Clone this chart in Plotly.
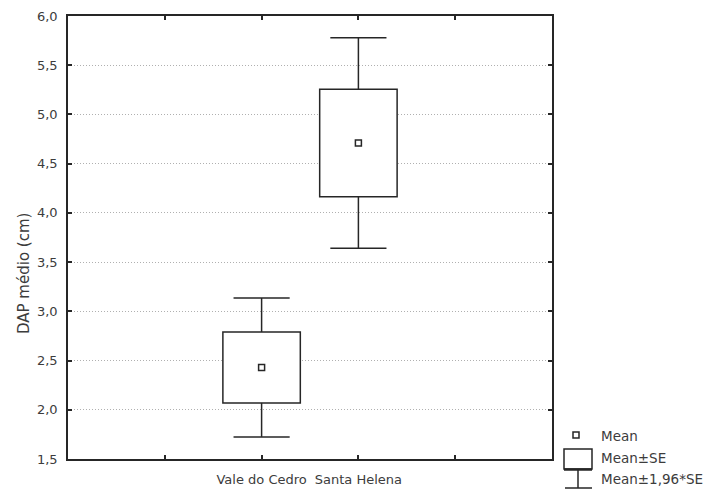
import plotly.graph_objects as go

# ---- data ----
categories = ["Vale do Cedro", "Santa Helena"]
cat_pos = [2, 3]
means = [2.43, 4.71]
se = [0.36, 0.545]
ci_factor = 1.96
y_ticks = [1.5, 2.0, 2.5, 3.0, 3.5, 4.0, 4.5, 5.0, 5.5, 6.0]
x_tickvals = [1, 2, 3, 4]
x_ticktext = [""] + categories + [""]

W, H = 708, 490
ML, MR, MT, MB = 68, 156, 16, 31
PW, PH = W - ML - MR, H - MT - MB
INK = "#262626"
TXT = "#3c3c3c"
FONT = "DejaVu Sans"

box_w = 0.8
cap_half = 0.29

fig = go.Figure()

# box = mean +/- SE
fig.add_trace(go.Bar(
    x=cat_pos, y=[2 * s for s in se], base=[m - s for m, s in zip(means, se)],
    width=box_w, marker=dict(color="white", line=dict(color=INK, width=1.5)),
    showlegend=False, hoverinfo="skip"))

# whiskers = mean +/- 1.96*SE
wx, wy = [], []
for p, m, s in zip(cat_pos, means, se):
    lo, hi = m - ci_factor * s, m + ci_factor * s
    wx += [p, p, None, p, p, None, p - cap_half, p + cap_half, None, p - cap_half, p + cap_half, None]
    wy += [m + s, hi, None, m - s, lo, None, hi, hi, None, lo, lo, None]
fig.add_trace(go.Scatter(x=wx, y=wy, mode="lines", line=dict(color=INK, width=1.5),
                         showlegend=False, hoverinfo="skip"))

# mean markers
fig.add_trace(go.Scatter(x=cat_pos, y=means, mode="markers",
                         marker=dict(symbol="square", size=6, color="white",
                                     line=dict(color=INK, width=1.5)),
                         showlegend=False, hoverinfo="skip"))


def px(x):
    return (x - ML) / PW


def py(y):
    return (H - MB - y) / PH


shapes = []
# legend: mean
shapes.append(dict(type="rect", xref="paper", yref="paper", x0=px(573), x1=px(579), y0=py(438), y1=py(432),
                   line=dict(color=INK, width=1.5), fillcolor="white"))
# legend: SE box
shapes.append(dict(type="rect", xref="paper", yref="paper", x0=px(564), x1=px(592), y0=py(469), y1=py(449),
                   line=dict(color=INK, width=1.5), fillcolor="white"))
shapes.append(dict(type="line", xref="paper", yref="paper", x0=px(564), x1=px(592), y0=py(469.5), y1=py(469.5),
                   line=dict(color=INK, width=2.5)))
# legend: whisker
shapes.append(dict(type="line", xref="paper", yref="paper", x0=px(578), x1=px(578), y0=py(469), y1=py(488),
                   line=dict(color=INK, width=1.5)))
shapes.append(dict(type="line", xref="paper", yref="paper", x0=px(565), x1=px(592), y0=py(488), y1=py(488),
                   line=dict(color=INK, width=1.5)))

annotations = []
for text, yy in [("Mean", 436), ("Mean±SE", 458), ("Mean±1,96*SE", 479)]:
    annotations.append(dict(text=text, xref="paper", yref="paper", x=px(599), y=py(yy),
                            xanchor="left", yanchor="middle", showarrow=False,
                            font=dict(family=FONT, size=13.5, color=TXT)))
annotations.append(dict(text="DAP médio (cm)", xref="paper", yref="paper", x=px(24), y=py(274),
                        textangle=-90, xanchor="center", yanchor="middle", showarrow=False,
                        font=dict(family=FONT, size=15, color=TXT)))

fig.update_layout(
    width=W, height=H,
    margin=dict(l=ML, r=MR, t=MT, b=MB, pad=0, autoexpand=False),
    paper_bgcolor="white", plot_bgcolor="white",
    separators=",.",
    shapes=shapes, annotations=annotations,
    showlegend=False,
    font=dict(family=FONT, size=12, color=TXT),
    xaxis=dict(range=[0, 5], tickmode="array", tickvals=x_tickvals, ticktext=x_ticktext,
               ticks="inside", ticklen=4, tickwidth=1.5, tickcolor=INK, tickangle=0,
               showline=True, linecolor=INK, linewidth=1.5, mirror="ticks", automargin=False,
               showgrid=False, zeroline=False, ticklabelstandoff=8,
               tickfont=dict(family=FONT, size=13, color=TXT)),
    yaxis=dict(range=[1.5, 6.0], tickmode="array", tickvals=y_ticks, tickformat=".1f",
               ticks="inside", ticklen=4, tickwidth=1.5, tickcolor=INK, automargin=False,
               showline=True, linecolor=INK, linewidth=1.5, mirror="ticks",
               showgrid=True, gridcolor="#b0b0b0", griddash="1px,2px", gridwidth=1,
               zeroline=False, ticklabelstandoff=6,
               tickfont=dict(family=FONT, size=13, color=TXT)),
)

fig.write_html("out.html")
